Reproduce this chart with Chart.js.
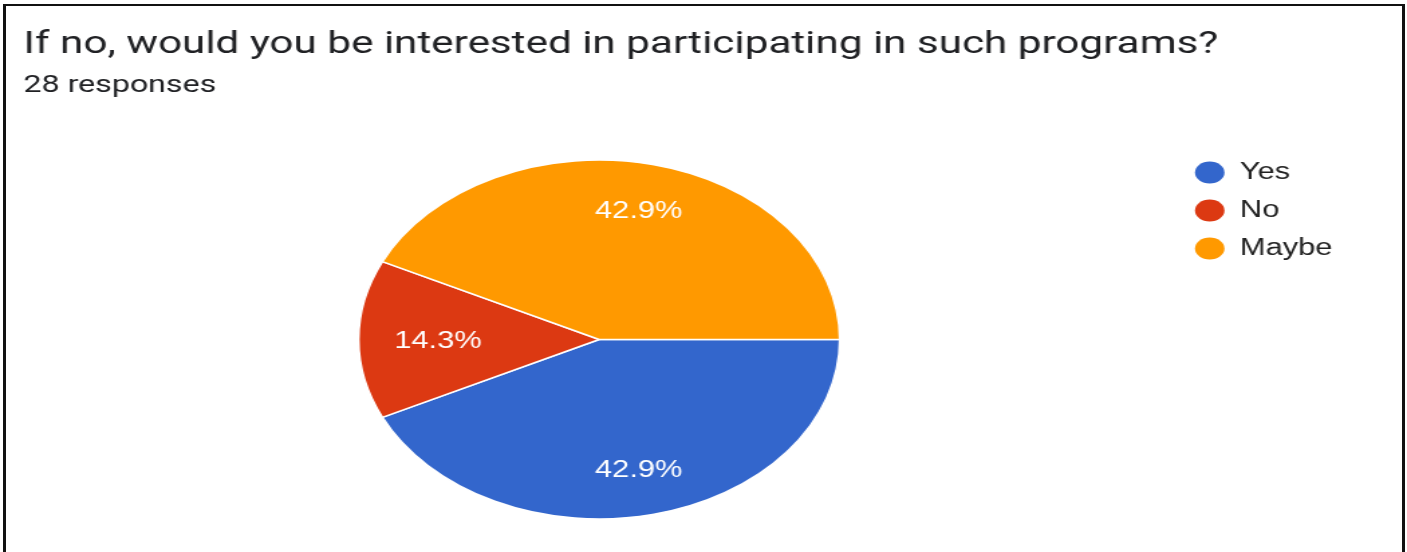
<!DOCTYPE html>
<html>
<head>
<meta charset="utf-8">
<script src="https://cdn.jsdelivr.net/npm/chart.js@4"></script>
<style>
    html, body { margin: 0; padding: 0; background: #fff; overflow: hidden; }
    .frame {
        position: absolute;
        left: 3px;
        top: 4px;
        width: 1402px;
        height: 600px;
        box-sizing: border-box;
        border: 3px solid #111;
        border-top-width: 2px;
        border-bottom: none;
        pointer-events: none;
    }
    .stretch {
        position: absolute;
        left: 0;
        top: 0;
        width: 1050px;
        height: 552px;
        transform: scaleX(1.34);
        transform-origin: 0 0;
    }
</style>
</head>
<body>
<div class="stretch"><canvas id="pieChart" width="1050" height="552"></canvas></div>
<div class="frame"></div>
<script>
const categories = ['Yes', 'No', 'Maybe'];
const responses = [12, 4, 12];
const sliceColors = ['#3366CC', '#DC3912', '#FF9900'];

const questionText = 'If no, would you be interested in participating in such programs?';
const responseCount = responses.reduce((a, b) => a + b, 0);

// percentage text inside each slice, narrow slices keep the text closer to the centre
const sliceLabels = {
    id: 'sliceLabels',
    afterDatasetsDraw(chart) {
        const ctx = chart.ctx;
        const meta = chart.getDatasetMeta(0);
        const values = chart.data.datasets[0].data;
        const total = values.reduce((a, b) => a + b, 0);
        ctx.save();
        ctx.fillStyle = '#ffffff';
        ctx.font = '23px "Liberation Sans", Arial, sans-serif';
        ctx.textAlign = 'center';
        ctx.textBaseline = 'middle';
        meta.data.forEach((arc, i) => {
            const p = arc.getProps(['x', 'y', 'startAngle', 'endAngle', 'outerRadius'], true);
            const sweep = p.endAngle - p.startAngle;
            const mid = (p.startAngle + p.endAngle) / 2;
            const r = p.outerRadius * Math.min(0.74, 0.5 + 0.19 * sweep);
            const text = (values[i] / total * 100).toFixed(1) + '%';
            // +2 so the digits sit optically centred
            ctx.fillText(text, p.x + Math.cos(mid) * r, p.y + Math.sin(mid) * r + 2);
        });
        ctx.restore();
    }
};

document.addEventListener('DOMContentLoaded', () => {
    const ctx = document.getElementById('pieChart').getContext('2d');
    new Chart(ctx, {
        type: 'pie',
        data: {
            labels: categories,
            datasets: [{
                data: responses,
                backgroundColor: sliceColors,
                borderColor: '#ffffff',
                borderWidth: 1.5,
                radius: 179.5
            }]
        },
        options: {
            responsive: false,
            animation: false,
            rotation: 90,
            layout: {
                padding: { left: 17.5, right: 45.7, top: 0, bottom: 19 }
            },
            plugins: {
                title: {
                    display: true,
                    text: questionText,
                    align: 'start',
                    color: '#202124',
                    font: { family: 'Roboto', size: 31.5, weight: 'normal' },
                    padding: { top: 25.9, bottom: 0 }
                },
                subtitle: {
                    display: true,
                    text: responseCount + ' responses',
                    align: 'start',
                    color: '#202124',
                    font: { family: 'Roboto', size: 24, weight: 'normal' },
                    padding: { top: 7.7, bottom: 45.8 }
                },
                legend: {
                    position: 'right',
                    align: 'start',
                    fullSize: false,
                    labels: {
                        usePointStyle: true,
                        pointStyle: 'circle',
                        pointStyleWidth: 22,
                        boxHeight: 15.56,
                        padding: 15,
                        color: '#222222',
                        font: { family: '"Liberation Sans", Arial, sans-serif', size: 23 },
                        generateLabels: chart => Chart.overrides.pie.plugins.legend.labels
                            .generateLabels(chart)
                            .map(item => ({ ...item, lineWidth: 0 }))
                    }
                },
                tooltip: { enabled: false }
            }
        },
        plugins: [sliceLabels]
    });
});
</script>
</body>
</html>
